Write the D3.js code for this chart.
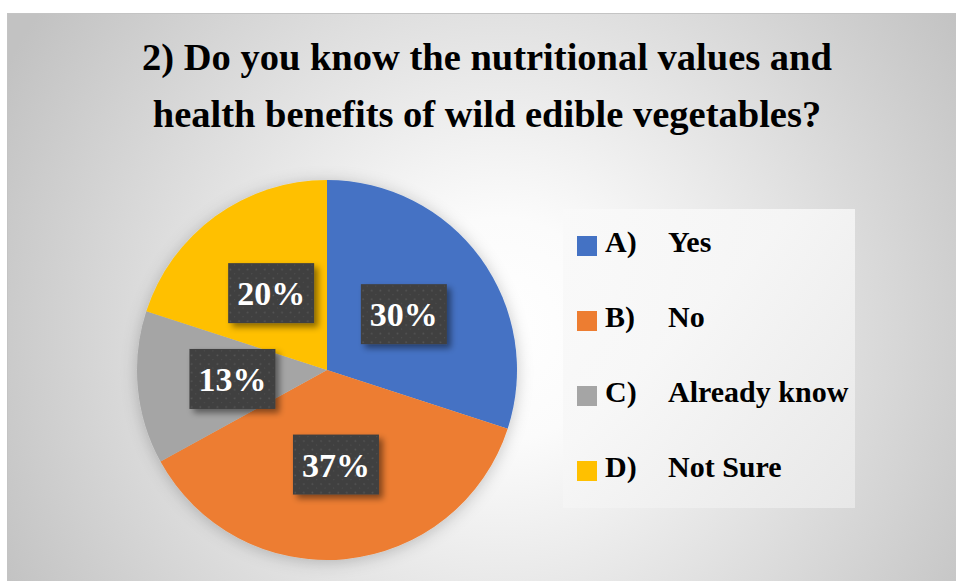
<!DOCTYPE html>
<html>
<head>
<meta charset="utf-8">
<script src="https://cdn.jsdelivr.net/npm/d3@7"></script>
<style>
    html, body { margin: 0; padding: 0; background: #fff; }
    svg { display: block; }
</style>
</head>
<body>
<svg id="chart" width="956" height="581"></svg>
<script>
'use strict';

var titleLines = ['2) Do you know the nutritional values and', 'health benefits of wild edible vegetables?'];
var letters = ['A)', 'B)', 'C)', 'D)'];
var categories = ['Yes', 'No', 'Already know', 'Not Sure'];
var values = [30, 37, 13, 20];
var colors = ['#4472C4', '#ED7D31', '#A5A5A5', '#FFC000'];

var serif = '"Liberation Serif", "Times New Roman", serif';

function draw () {
    var svg = d3.select('#chart');
    var defs = svg.append('defs');

    // background gradient
    var bg = defs.append('radialGradient')
        .attr('id', 'bg-grad')
        .attr('gradientUnits', 'userSpaceOnUse')
        .attr('cx', 500).attr('cy', 330).attr('r', 560);
    bg.append('stop').attr('offset', '0%').attr('stop-color', '#ffffff');
    bg.append('stop').attr('offset', '20%').attr('stop-color', '#fbfbfb');
    bg.append('stop').attr('offset', '100%').attr('stop-color', '#c2c2c2');

    var legendGrad = defs.append('linearGradient')
        .attr('id', 'legend-grad')
        .attr('x1', 0).attr('y1', 0).attr('x2', 1).attr('y2', 1);
    legendGrad.append('stop').attr('offset', '0%').attr('stop-color', '#f9f9f9');
    legendGrad.append('stop').attr('offset', '40%').attr('stop-color', '#f7f7f7');
    legendGrad.append('stop').attr('offset', '100%').attr('stop-color', '#e9e9e9');

    var pieShadow = defs.append('filter')
        .attr('id', 'pie-shadow')
        .attr('x', '-20%').attr('y', '-20%').attr('width', '140%').attr('height', '140%');
    pieShadow.append('feDropShadow')
        .attr('dx', 0).attr('dy', 2)
        .attr('stdDeviation', 8)
        .attr('flood-color', '#000')
        .attr('flood-opacity', 0.22);

    var boxShadow = defs.append('filter')
        .attr('id', 'box-shadow')
        .attr('x', '-30%').attr('y', '-30%').attr('width', '160%').attr('height', '160%');
    boxShadow.append('feDropShadow')
        .attr('dx', 4).attr('dy', 4)
        .attr('stdDeviation', 3)
        .attr('flood-color', '#000')
        .attr('flood-opacity', 0.45);

    var dots = defs.append('pattern')
        .attr('id', 'dots')
        .attr('patternUnits', 'userSpaceOnUse')
        .attr('width', 8.6).attr('height', 8.6);
    dots.append('rect').attr('width', 8.6).attr('height', 8.6).attr('fill', '#3f3f3f');
    dots.append('rect').attr('x', 1.5).attr('y', 1.5).attr('width', 1.6).attr('height', 1.6).attr('fill', '#575757');
    dots.append('rect').attr('x', 5.8).attr('y', 5.8).attr('width', 1.2).attr('height', 1.2).attr('fill', '#505050');

    svg.append('rect')
        .attr('x', 7.5).attr('y', 13.5)
        .attr('width', 960).attr('height', 580)
        .attr('fill', 'url(#bg-grad)')
        .attr('stroke', '#c4c4c4');

    // title
    svg.append('g')
        .selectAll('text')
        .data(titleLines)
        .enter().append('text')
            .attr('x', 487)
            .attr('y', function (d, i) { return 70 + i * 57; })
            .attr('text-anchor', 'middle')
            .style('font-family', serif)
            .style('font-weight', 'bold')
            .style('font-size', '38.5px')
            .attr('fill', '#000')
            .text(function (d) { return d; });

    // pie
    var cx = 327, cy = 370, radius = 190;
    var pie = d3.pie().sort(null).value(function (d) { return d; });
    var arcs = pie(values);
    var arc = d3.arc().innerRadius(0).outerRadius(radius);
    var labelArc = d3.arc().innerRadius(95).outerRadius(95);

    var pieG = svg.append('g')
        .attr('transform', 'translate(' + cx + ',' + cy + ')');

    pieG.append('g')
        .attr('filter', 'url(#pie-shadow)')
        .selectAll('path')
        .data(arcs)
        .enter().append('path')
            .attr('d', arc)
            .attr('fill', function (d, i) { return colors[i]; });

    var boxW = 86, boxH = 60;
    var label = pieG.append('g')
        .selectAll('g')
        .data(arcs)
        .enter().append('g')
            .attr('transform', function (d) {
                var c = labelArc.centroid(d);
                return 'translate(' + c[0] + ',' + c[1] + ')';
            });

    label.append('rect')
        .attr('x', -boxW / 2).attr('y', -boxH / 2)
        .attr('width', boxW).attr('height', boxH)
        .attr('fill', 'url(#dots)')
        .attr('filter', 'url(#box-shadow)');

    label.append('text')
        .attr('text-anchor', 'middle')
        .attr('y', 12)
        .style('font-family', serif)
        .style('font-weight', 'bold')
        .style('font-size', '34px')
        .attr('fill', '#fff')
        .text(function (d) { return d.value + '%'; });

    // legend
    var legend = svg.append('g');
    legend.append('rect')
        .attr('x', 563).attr('y', 209)
        .attr('width', 292).attr('height', 299)
        .attr('fill', 'url(#legend-grad)')
        .attr('opacity', 0.9);

    var item = legend.selectAll('g.item')
        .data(categories)
        .enter().append('g')
            .attr('class', 'item')
            .attr('transform', function (d, i) {
                return 'translate(577,' + (246 + i * 75) + ')';
            });

    item.append('rect')
        .attr('x', 0).attr('y', -10)
        .attr('width', 20).attr('height', 20)
        .attr('fill', function (d, i) { return colors[i]; });

    item.append('text')
        .attr('x', 28).attr('y', 6)
        .style('font-family', serif)
        .style('font-weight', 'bold')
        .style('font-size', '30px')
        .text(function (d, i) { return letters[i]; });

    item.append('text')
        .attr('x', 91).attr('y', 6)
        .style('font-family', serif)
        .style('font-weight', 'bold')
        .style('font-size', '30px')
        .text(function (d) { return d; });
}

draw();
</script>
</body>
</html>
